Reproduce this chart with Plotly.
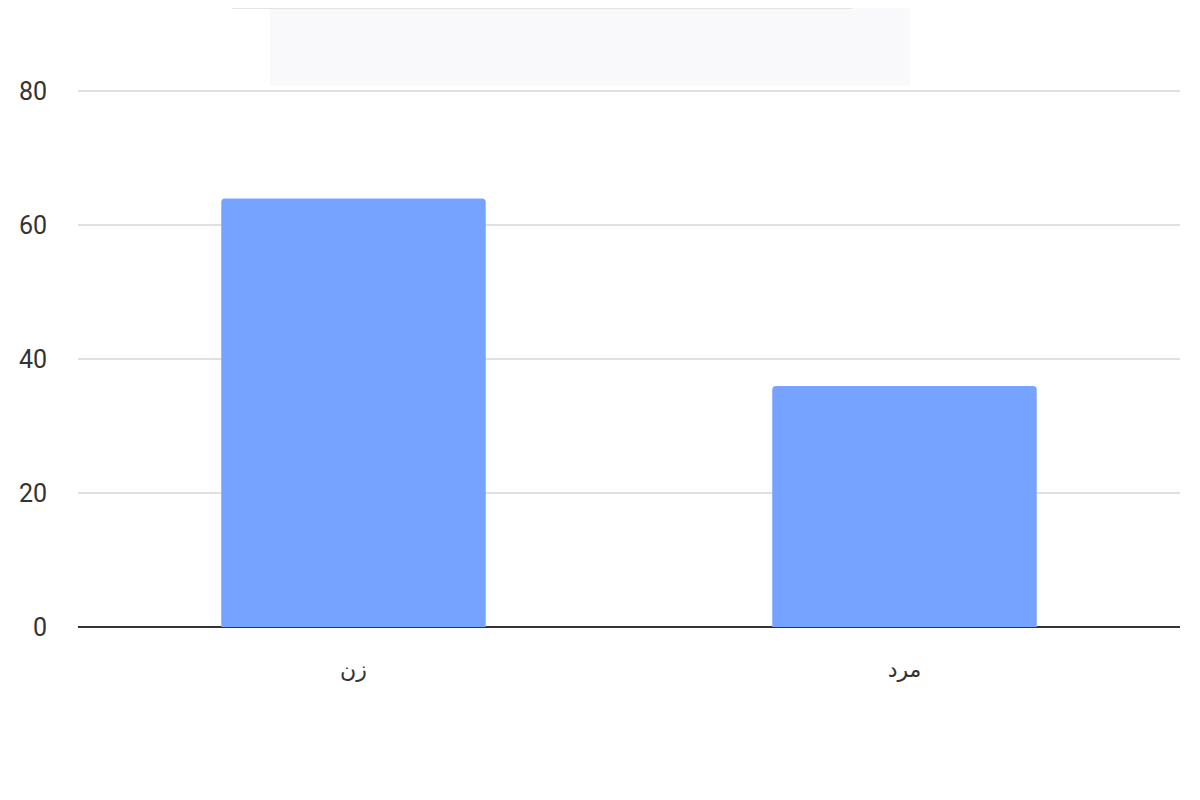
import plotly.graph_objects as go

categories = ["زن", "مرد"]
values = [64, 36]
y_ticks = [0, 20, 40, 60, 80]

fig = go.Figure()
fig.add_trace(go.Bar(
    x=categories,
    y=values,
    marker=dict(color="#76A3FF", line=dict(width=0)),
    width=0.48,
))

# faint blurred tooltip remnant at the top
fig.add_shape(type="rect", xref="paper", yref="paper",
              x0=0.174, x1=0.755, y0=1.008, y1=1.16,
              fillcolor="#f9f9fb", line=dict(width=0), layer="below")
fig.add_shape(type="line", xref="paper", yref="paper",
              x0=0.140, x1=0.702, y0=1.153, y1=1.153,
              line=dict(color="#dddddd", width=2))

fig.update_layout(
    width=1200, height=800,
    margin=dict(l=70, r=28, t=82, b=181),
    plot_bgcolor="white", paper_bgcolor="white",
    barcornerradius=4,
    showlegend=False,
    font=dict(family="Roboto, Arial, sans-serif", size=22, color="#333333"),
    xaxis=dict(showgrid=False, showline=False, ticks="",
               tickfont=dict(size=22, family="DejaVu Sans, sans-serif", color="#333333"),
               ticklabelstandoff=27),
    yaxis=dict(range=[0, 80.2], tickvals=y_ticks, showgrid=True, gridcolor="#e0e0e0",
               gridwidth=1.5, zeroline=True, zerolinecolor="#333333", zerolinewidth=2,
               showline=False, ticks="", ticklabelstandoff=30,
               tickfont=dict(size=25, color="#333333")),
)

fig.write_html("out.html")
